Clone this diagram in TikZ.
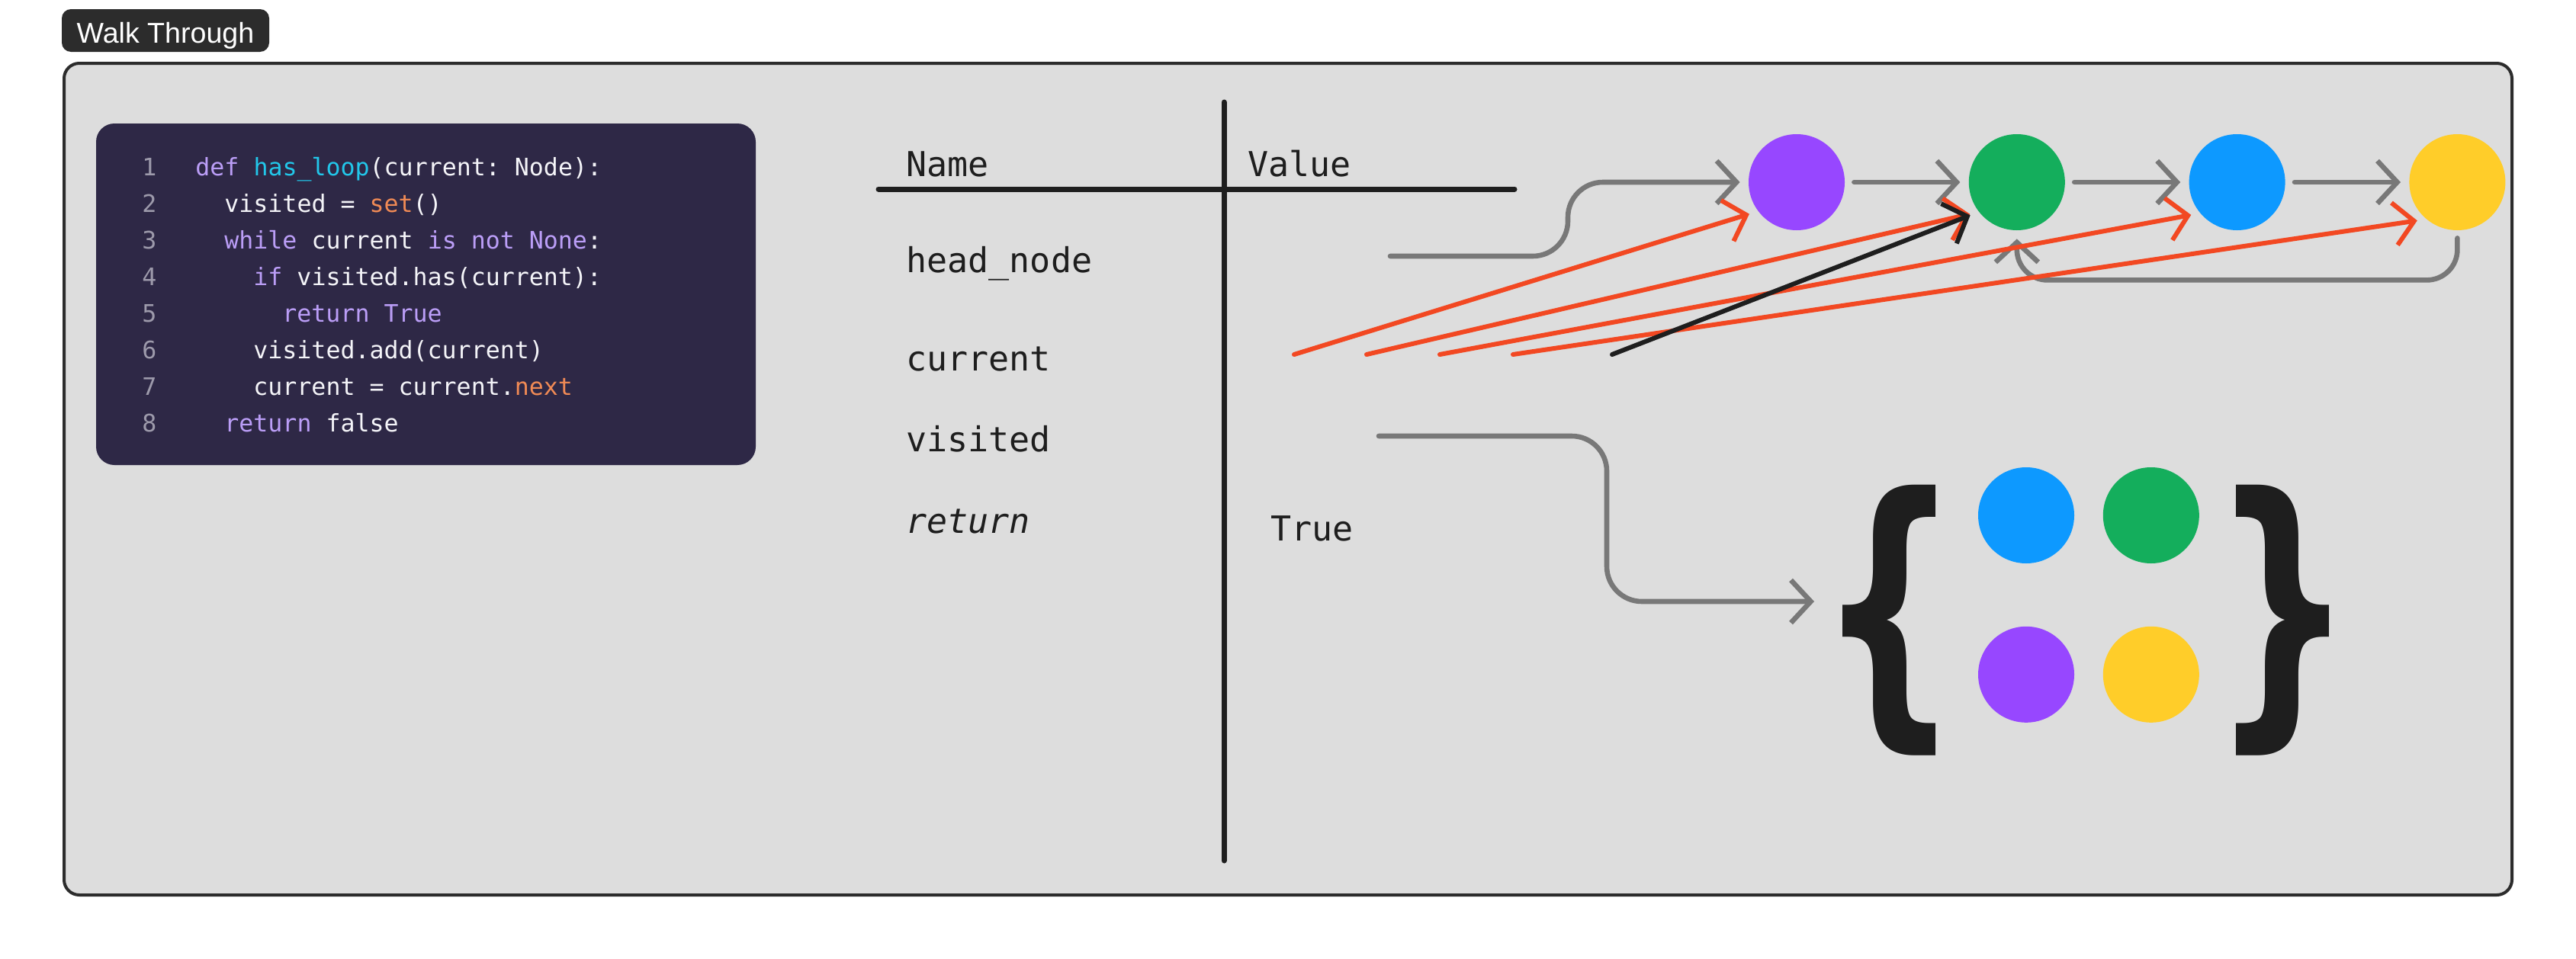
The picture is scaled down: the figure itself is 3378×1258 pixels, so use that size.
\documentclass[tikz,border=0pt]{standalone}
\usepackage{fontspec}
\setmainfont{Liberation Sans}
\setmonofont{DejaVu Sans Mono}
\newfontfamily\bracefont{DejaVu Sans}
\usepackage{graphicx}
\usepackage{xcolor}
\usepackage{tikz}
\usetikzlibrary{arrows.meta,positioning,calc}

\definecolor{framebg}{HTML}{DDDDDD}
\definecolor{framedraw}{HTML}{2C2C2C}
\definecolor{codebg}{HTML}{2E2846}
\definecolor{codetxt}{HTML}{F4F4F8}
\definecolor{codenum}{HTML}{9D9AAB}
\definecolor{codekw}{HTML}{BB9EF7}
\definecolor{codefn}{HTML}{22C7EA}
\definecolor{codebi}{HTML}{F08A55}
\definecolor{ink}{HTML}{1E1E1E}
\definecolor{ptrgray}{HTML}{787878}
\definecolor{curred}{HTML}{F24822}
\definecolor{npurple}{HTML}{9747FF}
\definecolor{ngreen}{HTML}{14AE5C}
\definecolor{nblue}{HTML}{0D99FF}
\definecolor{nyellow}{HTML}{FFCD29}

\newcommand{\kwd}[1]{\textcolor{codekw}{#1}}
\newcommand{\fnm}[1]{\textcolor{codefn}{#1}}
\newcommand{\bltn}[1]{\textcolor{codebi}{#1}}
% brace glyph cut to its ink and stretched to the set size
\newcommand{\inkbrace}[1]{\resizebox*{61pt}{177.5pt}{\bracefont\bfseries
    \kern-\XeTeXglyphbounds1 \XeTeXcharglyph`#1\relax
    \char`#1\relax
    \kern-\XeTeXglyphbounds3 \XeTeXcharglyph`#1\relax}}

\tikzset{
    tab/.style={fill=framedraw, rounded corners=6pt, inner sep=0pt, minimum width=136pt,
        text height=22pt, text depth=6pt, text=white, font=\fontsize{18.8}{20}\selectfont},
    codenum/.style={anchor=base, inner sep=0pt, text=codenum, font=\ttfamily\fontsize{15.8}{18}\selectfont},
    codeline/.style={anchor=base west, inner sep=0pt, text=codetxt, font=\ttfamily\fontsize{15.8}{18}\selectfont},
    cell/.style={anchor=base west, inner sep=0pt, text=ink, font=\ttfamily\fontsize{22.5}{26}\selectfont},
    rule/.style={draw=ink, line width=3.5pt, line cap=round},
    listnode/.style={circle, inner sep=0pt, minimum size=63pt},
    setbrace/.style={inner sep=0pt, text=ink, font=\fontsize{100}{100}\selectfont},
    ptr/.style={draw=ptrgray, line width=3.3pt, line cap=round, line join=round,
        -{Straight Barb[length=13pt,width=28pt]}, shorten >=5.5pt},
    curptr/.style={ptr, draw=curred, line width=3pt, shorten >=6pt}
}

\begin{document}
\begin{tikzpicture}[x=0.5pt, y=-0.5pt]
    \useasboundingbox (0,0) rectangle (3378,1258);
    \fill[white] (0,0) rectangle (3378,1258);

    % frame and title
    \draw[framedraw, fill=framebg, line width=2pt, rounded corners=10pt] (84,83) rectangle (3294,1174);
    \node[tab, anchor=base] (title) at (217,56) {Walk Through};

    % code
    \fill[codebg, rounded corners=12pt] (126,162) rectangle (991,610);
    \foreach \n in {1,...,8}
        \node[codenum] (num\n) at (196,182+48*\n) {\n};
    \node[codeline] (l1) at (256,230) {\kwd{def} \fnm{has\_loop}(current: Node):};
    \node[codeline] (l2) at (294,278) {visited = \bltn{set}()};
    \node[codeline] (l3) at (294,326) {\kwd{while} current \kwd{is not None}:};
    \node[codeline] (l4) at (332,374) {\kwd{if} visited.has(current):};
    \node[codeline] (l5) at (370,422) {\kwd{return True}};
    \node[codeline] (l6) at (332,470) {visited.add(current)};
    \node[codeline] (l7) at (332,518) {current = current.\bltn{next}};
    \node[codeline] (l8) at (294,566) {\kwd{return} false};

    % table
    \draw[rule] (1605,134) -- (1605,1129);
    \draw[rule] (1152,248) -- (1986,248);
    \node[cell] (hname) at (1188,231) {Name};
    \node[cell] (hvalue) at (1636,231) {Value};
    \node[cell] (vhead) at (1188,357) {head\_node};
    \node[cell] (vcur) at (1188,486) {current};
    \node[cell] (vvis) at (1188,592) {visited};
    \node[cell, font=\ttfamily\itshape\fontsize{22.5}{26}\selectfont] (vret) at (1188,699) {return};
    \node[cell] (vtrue) at (1666,709) {True};

    % linked list
    \node[listnode, fill=npurple] (n1) at (2356,239) {};
    \node[listnode, fill=ngreen, right=81pt of n1] (n2) {};
    \node[listnode, fill=nblue, right=81pt of n2] (n3) {};
    \node[listnode, fill=nyellow, right=81pt of n3] (n4) {};

    % visited set
    \node[listnode, fill=nblue] (s1) at (2657,676) {};
    \node[listnode, fill=ngreen, right=18.5pt of s1] (s2) {};
    \node[listnode, fill=npurple, below=41pt of s1] (s3) {};
    \node[listnode, fill=nyellow, right=18.5pt of s3] (s4) {};
    \node[setbrace] (lbrace) at (2477,814) {\inkbrace{\{}};
    \node[setbrace] (rbrace) at (2993,814) {\inkbrace{\}}};

    % pointers
    \coordinate (hnv) at (1823,336);
    \coordinate (visv) at (1808,572);
    \coordinate (setin) at (2390,789);
    \draw[ptr, rounded corners=23pt] (hnv) -- ++(233,0) |- (n1.west);
    \foreach \a/\b in {n1/n2,n2/n3,n3/n4}
        \draw[ptr, shorten <=6pt] (\a) -- (\b);
    \draw[ptr, rounded corners=20pt, shorten <=5pt] (n4.south) -- ++(0,65) -| (n2.south);
    \draw[ptr, rounded corners=23pt] (visv) -- ++(299,0) |- (setin);

    % current moves
    \coordinate (cur1) at (1697,465);
    \coordinate (cur2) at (1792,465);
    \coordinate (cur3) at (1888,465);
    \coordinate (cur4) at (1984,465);
    \coordinate (cur5) at (2114,465);
    \draw[curptr] (cur1) -- (n1.217);
    \draw[curptr] (cur2) -- (n2.218);
    \draw[curptr] (cur3) -- (n3.220);
    \draw[curptr] (cur4) -- (n4.230);
    \draw[curptr, draw=ink] (cur5) -- (n2.218);
\end{tikzpicture}
\end{document}
